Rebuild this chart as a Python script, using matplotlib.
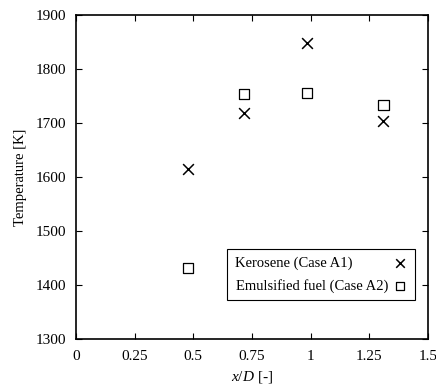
import matplotlib
matplotlib.use("Agg")
import matplotlib.pyplot as plt

plt.rcParams['font.family'] = ['Liberation Serif', 'DejaVu Serif']
plt.rcParams['mathtext.fontset'] = 'custom'
plt.rcParams['mathtext.it'] = 'Liberation Serif:italic'
plt.rcParams['mathtext.rm'] = 'Liberation Serif'

xd = [0.477, 0.715, 0.983, 1.31]
t_kerosene = [1615, 1719, 1848, 1704]
t_emulsified = [1432, 1754, 1755, 1733]
labels = ['Kerosene (Case A1)', 'Emulsified fuel (Case A2)']

fig = plt.figure(figsize=(4.36, 3.89), dpi=100)
ax = fig.add_axes([76/436, 1 - 339/389, 352/436, 324/389])

ax.scatter(xd, t_kerosene, marker='x', s=60, c='black', linewidths=1.1,
           label=labels[0] + '\u00a0' * 10)
ax.scatter(xd, t_emulsified, marker='s', s=55, facecolors='none',
           edgecolors='black', linewidths=0.9, label=labels[1])

ax.set_xlim(0, 1.5)
ax.set_ylim(1300, 1900)
ax.set_xticks([0, 0.25, 0.5, 0.75, 1, 1.25, 1.5])
ax.set_xticklabels(['0', '0.25', '0.5', '0.75', '1', '1.25', '1.5'])
ax.set_yticks(range(1300, 1901, 100))
ax.tick_params(direction='in', top=True, right=True, labelsize=11, length=4)
ax.tick_params(axis='x', pad=8)
ax.tick_params(axis='y', pad=7)
for s in ax.spines.values():
    s.set_linewidth(1.2)

ax.set_xlabel(r'$x/D$ [-]', fontsize=11, labelpad=4)
ax.set_ylabel('Temperature [K]', fontsize=10.5, labelpad=6)

leg = ax.legend(loc='lower right', bbox_to_anchor=(0.962, 0.12), markerfirst=False,
                fancybox=False, edgecolor='black', framealpha=1, fontsize=10.5,
                handletextpad=0.3, borderpad=0.5, markerscale=0.8,
                handlelength=1.0, labelspacing=0.6, borderaxespad=0)
leg.get_frame().set_linewidth(0.8)

plt.savefig("out.png", dpi=100)
